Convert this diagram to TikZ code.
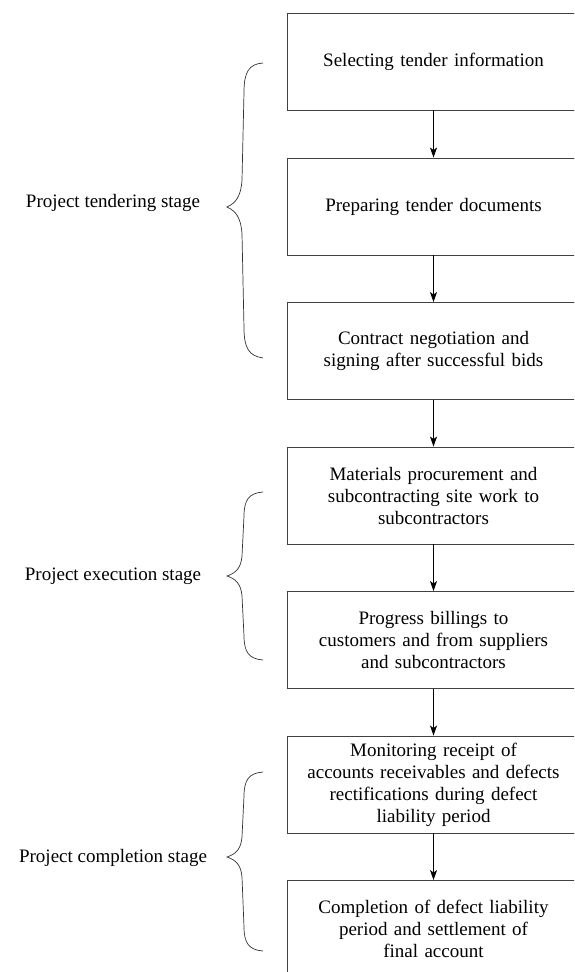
\documentclass[tikz,border=0pt]{standalone}
\usepackage{fontspec}
\setmainfont{Liberation Serif}
\usetikzlibrary{arrows.meta}
\tikzset{
  stagebox/.style={draw=black!75, line width=0.9pt, minimum width=293pt, minimum height=97pt,
    inner sep=0pt, align=center, text width=260pt, font=\fontsize{19}{22}\selectfont},
  stagelabel/.style={font=\fontsize{19}{22}\selectfont, inner sep=0pt},
  flow/.style={line width=0.8pt, -{Stealth[length=10pt,width=7pt,inset=2.5pt]}},
  bracepath/.style={line width=0.7pt, black!80}
}
\begin{document}
\begin{tikzpicture}[x=1pt,y=-1pt]
\useasboundingbox (0,0) rectangle (574,972);
\fill[white] (0,0) rectangle (574,972);
\clip (0,0) rectangle (574,972);
% boxes
\node[stagebox] (b1) at (433.5,61.5) {Selecting tender information};
\node[stagebox] (b2) at (433.5,206.5) {Preparing tender documents};
\node[stagebox] (b3) at (433.5,351) {Contract negotiation and\\signing after successful bids};
\node[stagebox] (b4) at (433.5,495.5) {Materials procurement and\\subcontracting site work to\\subcontractors};
\node[stagebox] (b5) at (433.5,640) {Progress billings to\\customers and from suppliers\\and subcontractors};
\node[stagebox] (b6) at (433.5,784.5) {Monitoring receipt of\\accounts receivables and defects\\rectifications during defect\\liability period};
\node[stagebox] (b7) at (433.5,929) {Completion of defect liability\\period and settlement of\\final account};
% arrows
\draw[flow] (b1) -- (b2);
\draw[flow] (b2) -- (b3);
\draw[flow] (b3) -- (b4);
\draw[flow] (b4) -- (b5);
\draw[flow] (b5) -- (b6);
\draw[flow] (b6) -- (b7);
% labels
\node[stagelabel] (l1) at (113,203) {Project tendering stage};
\node[stagelabel] (l2) at (113,576) {Project execution stage};
\node[stagelabel] (l3) at (113,858) {Project completion stage};
% braces
\draw[bracepath] (263,63) .. controls (249,64) and (244,72) .. (244,92)
  -- (242,180) .. controls (241,196) and (236,203) .. (227,207)
  .. controls (236,211) and (241,218) .. (242,234)
  -- (244,328) .. controls (244,348) and (249,356) .. (263,358);
\draw[bracepath] (263,492) .. controls (249,493) and (244,500) .. (244,516)
  -- (242,556) .. controls (241,568) and (236,573) .. (227,576)
  .. controls (236,579) and (241,584) .. (242,596)
  -- (244,636) .. controls (244,652) and (249,659) .. (263,660);
\draw[bracepath] (263,772) .. controls (249,773) and (244,780) .. (244,796)
  -- (242,837) .. controls (241,849) and (236,854) .. (227,857)
  .. controls (236,860) and (241,865) .. (242,877)
  -- (244,927) .. controls (244,943) and (249,950) .. (263,951);
\end{tikzpicture}
\end{document}
